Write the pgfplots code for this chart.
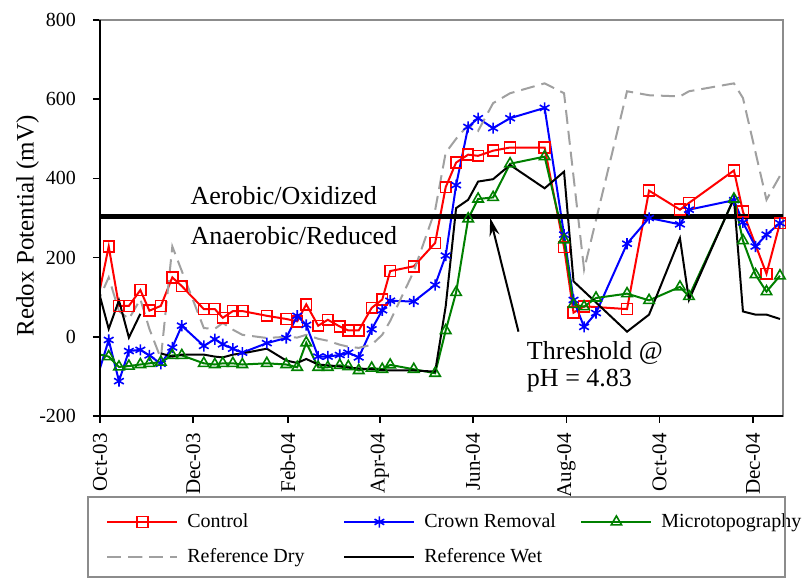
\documentclass[border=0pt]{standalone}
\usepackage{pgfplots}
\pgfplotsset{compat=1.18}
\usepackage{fontspec}
\setmainfont{Liberation Serif}
\usetikzlibrary{arrows.meta}

\definecolor{refdry}{RGB}{160,160,160}
\definecolor{mgreen}{RGB}{0,128,0}
\definecolor{framegray}{RGB}{140,140,140}

\begin{document}
\begin{tikzpicture}
\begin{axis}[
  name=ax,
  scale only axis, width=341.5pt, height=198pt,
  xmin=0, xmax=446.7, ymin=-200, ymax=800,
  ytick={-200,0,200,400,600,800},
  xtick={0,61,123,183,244,305,366,427},
  xticklabels={Oct-03,Dec-03,Feb-04,Apr-04,Jun-04,Aug-04,Oct-04,Dec-04},
  xticklabel style={rotate=90, anchor=east, font=\fontsize{10.5}{12}\selectfont},
  yticklabel style={font=\fontsize{10}{12}\selectfont},
  xticklabel shift=1.5pt, yticklabel shift=5pt,
  /pgf/number format/assume math mode=true,
  tick align=outside, xtick pos=bottom, ytick pos=left,
  major tick length=3.5pt, tick style={black, line width=0.8pt},
  axis line style={draw=framegray, line width=1pt},
  ylabel={Redox Potential (mV)},
  ylabel style={font=\fontsize{12.5}{14}\selectfont, at={(axis description cs:-0.106,0.48)}, anchor=center},
  unbounded coords=jump,
  legend columns=3,
  legend cell align=left,
  legend style={draw=none, fill=none, at={(axis description cs:0.0,-0.225)}, anchor=north west,
    font=\fontsize{10}{12}\selectfont, row sep=5pt,
    /tikz/every odd column/.append style={column sep=2.5pt}},
  legend image code/.code={\draw[mark repeat=2,mark phase=2] plot coordinates {(0pt,0pt) (17.5pt,0pt) (35pt,0pt)};},
]
% Control
\addplot[red, line width=1pt, mark=square, mark size=2.7pt, mark options={solid, line width=0.8pt}] coordinates {
(-3,64) (5.7,228) (12.4,78) (18.9,78) (26.4,118) (32.3,66) (39.8,78) (47.3,150) (53.5,128)
(67.9,70) (75.1,70) (80.3,48) (86.9,65) (93.1,65) (109.1,53) (121.8,45) (129.0,39) (134.9,82)
(142.7,28) (149.0,43) (156.8,26) (162.4,16) (169.2,16) (177.7,73) (184.6,94) (189.8,166)
(205.2,178) (219.2,237) (226.1,378) (232.9,440) (240.8,460) (247.3,457) (257.1,470) (268.2,478)
(290.8,478) (303.5,226) (309.7,61) (316.6,77) (344.7,70) (359.1,369) (379.3,321) (385.2,338)
(414.6,420) (420.5,316) (435.9,159) (444.7,287)};
\addlegendentry{\makebox[76pt][l]{Control}}
% Crown Removal
\addplot[blue, line width=1pt, mark=asterisk, mark size=2.8pt, mark options={solid, line width=0.8pt}] coordinates {
(-3,-117) (5.7,-8) (12.4,-112) (18.9,-36) (26.4,-33) (32.3,-47) (39.8,-68) (47.3,-27) (53.5,28)
(67.9,-23) (75.1,-6) (80.3,-19) (86.9,-30) (93.1,-40) (109.1,-16) (121.8,-3) (129.0,53) (134.9,30)
(142.7,-50) (149.0,-50) (156.8,-46) (162.4,-40) (169.2,-52) (177.7,19) (184.6,67) (189.8,91)
(205.2,89) (219.2,131) (226.1,205) (232.9,383) (240.8,530) (247.3,552) (257.1,527) (268.2,552)
(290.8,578) (303.5,258) (309.7,93) (316.6,25) (324.4,60) (344.7,235) (359.1,300) (379.3,284)
(385.2,321) (414.6,345) (420.5,289) (428.7,228) (435.9,258) (444.7,287)};
\addlegendentry{\makebox[76pt][l]{Crown Removal}}
% Microtopography
\addplot[mgreen, line width=1pt, mark=triangle, mark size=3pt, mark options={solid, line width=0.8pt}] coordinates {
(-3,-42) (5.7,-50) (12.4,-76) (18.9,-74) (26.4,-70) (32.3,-67) (39.8,-64) (47.3,-47) (53.5,-47)
(67.9,-67) (75.1,-70) (80.3,-67) (86.9,-67) (93.1,-70) (109.1,-67) (121.8,-70) (129.0,-77) (134.9,-15)
(142.7,-77) (149.0,-77) (156.8,-72) (162.4,-75) (169.2,-85) (177.7,-79) (184.6,-82) (189.8,-71)
(205.2,-82) (219.2,-92) (226.1,16) (232.9,112) (240.8,298) (247.3,348) (257.1,352) (268.2,437)
(290.8,455) (303.5,245) (309.7,82) (316.6,76) (324.4,98) (344.7,109) (359.1,92) (379.3,126)
(385.2,102) (414.6,348) (420.5,243) (428.7,157) (435.9,114) (444.7,154)};
\addlegendentry{Microtopography}
% Reference Dry
\addplot[refdry, line width=1pt, dash pattern=on 7pt off 3.5pt] coordinates {
(-3,75) (5.7,150) (12.4,65) (18.9,45) (26.4,95) (32.3,20) (39.8,-55) (47.3,228)
(67.9,22) (75.1,20) (80.3,35) (86.9,18) (93.1,5) (109.1,-3) (121.8,0) (129.0,-2) (134.9,5)
(142.7,-5) (149.0,-10) (156.8,-20) (162.4,-25) (169.2,-28) (177.7,-20) (184.6,5) (189.8,40)
(205.2,165) (219.2,320) (226.1,465) (232.9,500) (240.8,535) (247.3,520) (257.1,590) (268.2,615)
(290.8,640) (303.5,615) (316.6,170) (344.7,620) (359.1,610) (379.3,607) (385.2,620)
(414.6,640) (420.5,603) (435.9,346) (446.7,420)};
\addlegendentry{\makebox[76pt][l]{Reference Dry}}
% Reference Wet
\addplot[black, line width=1pt] coordinates {
(-3,145) (5.7,20) (12.4,92) (18.9,-2) (26.4,58) (32.3,nan) (39.8,-42) (47.3,-50) (53.5,-45)
(67.9,-45) (75.1,-50) (80.3,-52) (86.9,-45) (93.1,-42) (109.1,-30) (121.8,-60) (129.0,-66) (134.9,-56)
(142.7,-70) (149.0,-72) (156.8,-75) (162.4,-78) (169.2,-80) (177.7,-82) (184.6,-84) (189.8,-85)
(205.2,-85) (219.2,-88) (226.1,77) (232.9,325) (240.8,346) (247.3,392) (257.1,398) (268.2,434)
(290.8,375) (303.5,417) (309.7,140) (344.7,13) (359.1,56) (379.3,249) (385.2,93)
(414.6,350) (420.5,64) (428.7,56) (435.9,56) (444.7,45)};
\addlegendentry{Reference Wet}
% threshold
\addplot[black, line width=2.5pt, forget plot] coordinates {(0,305) (446.7,305)};
\node[anchor=base west, font=\fontsize{13}{15}\selectfont, inner sep=0pt] at (axis cs:59,333) {Aerobic/Oxidized};
\node[anchor=base west, font=\fontsize{13}{15}\selectfont, inner sep=0pt] at (axis cs:59,232) {Anaerobic/Reduced};
\node[anchor=base west, font=\fontsize{13}{15}\selectfont, inner sep=0pt] at (axis cs:279,-58) {Threshold @};
\node[anchor=base west, font=\fontsize{13}{15}\selectfont, inner sep=0pt] at (axis cs:279,-126) {pH = 4.83};
\draw[-{Stealth[length=9pt,width=5pt]}, line width=1pt] (axis cs:273.7,13) -- (axis cs:255.2,300);
\end{axis}
\draw[black, line width=1pt] (ax.north west) -- (ax.south west) -- (ax.south east);
\draw[framegray, line width=0.6pt] ([xshift=-6pt,yshift=-40.5pt]ax.south west) rectangle ([xshift=1pt,yshift=-80.5pt]ax.south east);
\pgfresetboundingbox
\path[use as bounding box] ([xshift=-50pt,yshift=208pt]ax.south west) rectangle ([xshift=354.5pt,yshift=-83pt]ax.south west);
\end{tikzpicture}
\end{document}
